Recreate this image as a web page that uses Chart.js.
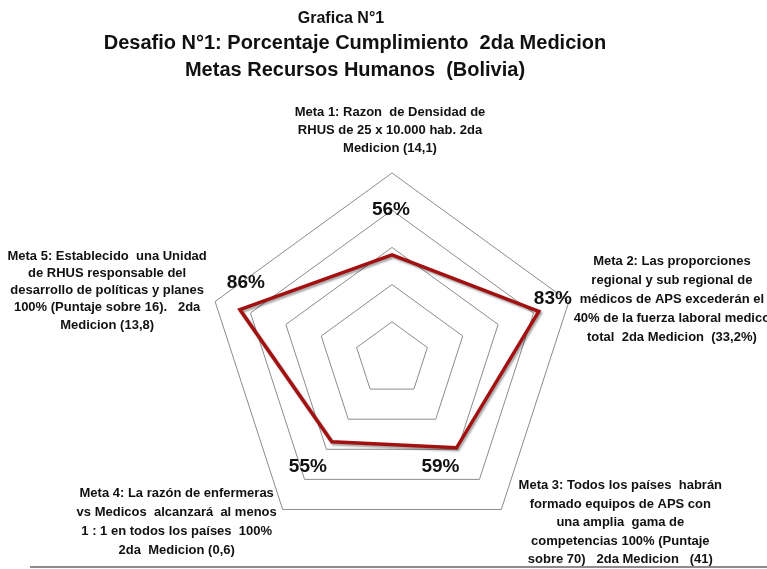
<!DOCTYPE html>
<html>
<head>
<meta charset="utf-8">
<script src="https://cdn.jsdelivr.net/npm/chart.js@4.4.1/dist/chart.umd.min.js"></script>
<style>
  html, body { margin: 0; padding: 0; background: #ffffff; }
  #wrap { width: 767px; height: 569px; }
</style>
</head>
<body>
<div id="wrap"><canvas id="c" width="767" height="569"></canvas></div>
<script>
// ---- Data ----
const titleLines = [
  'Grafica N°1',
  'Desafio N°1: Porcentaje Cumplimiento  2da Medicion',
  'Metas Recursos Humanos  (Bolivia)'
];
const categories = [
  ['Meta 1: Razon  de Densidad de', 'RHUS de 25 x 10.000 hab. 2da', 'Medicion (14,1)'],
  ['Meta 2: Las proporciones', 'regional y sub regional de', 'médicos de APS excederán el', '40% de la fuerza laboral medico', 'total  2da Medicion  (33,2%)'],
  ['Meta 3: Todos los países  habrán', 'formado equipos de APS con', 'una amplia  gama de', 'competencias 100% (Puntaje', 'sobre 70)   2da Medicion   (41)'],
  ['Meta 4: La razón de enfermeras', 'vs Medicos  alcanzará  al menos', '1 : 1 en todos los países  100%', '2da  Medicion (0,6)'],
  ['Meta 5: Establecido  una Unidad', 'de RHUS responsable del', 'desarrollo de políticas y planes', '100% (Puntaje sobre 16).   2da', 'Medicion (13,8)']
];
const values = [56, 83, 59, 55, 86];
const valueLabels = ['56%', '83%', '59%', '55%', '86%'];
const scaleMin = 0;
const scaleMax = 100;
const scaleStep = 20;

// ---- Layout / style (not data) ----
const catLabelOffsets = [[-2, -43], [103, -2], [119, 13], [-106, 12], [-108, -11]];
const catLineHeights = [18, 19, 18.5, 19, 17.3];
const valLabelOffsets = [[-1, -45], [14, -13], [-16, 19], [-24, 25], [6, -27]];

const decorPlugin = {
  id: 'decor',
  beforeDraw(chart) {
    const ctx = chart.ctx;
    ctx.save();
    ctx.fillStyle = '#ffffff';
    ctx.fillRect(0, 0, chart.width, chart.height);
    ctx.restore();
  },
  beforeDatasetDraw(chart) {
    const ctx = chart.ctx;
    ctx.save();
    ctx.shadowColor = 'rgba(0,0,0,0.35)';
    ctx.shadowOffsetX = 1.5;
    ctx.shadowOffsetY = 2;
    ctx.shadowBlur = 2;
  },
  afterDatasetDraw(chart) {
    chart.ctx.restore();
  },
  afterDraw(chart) {
    const ctx = chart.ctx;
    const scale = chart.scales.r;
    ctx.save();
    ctx.fillStyle = '#111111';
    ctx.textBaseline = 'middle';
    ctx.textAlign = 'center';
    // Title
    ctx.font = 'bold 16px "Liberation Sans", Arial, sans-serif';
    ctx.fillText(titleLines[0], 341, 19);
    ctx.font = 'bold 20px "Liberation Sans", Arial, sans-serif';
    ctx.fillText(titleLines[1], 355, 43);
    ctx.fillText(titleLines[2], 355, 70);

    // Category labels
    ctx.font = 'bold 13px "Liberation Sans", Arial, sans-serif';
    categories.forEach((lines, i) => {
      const p = scale.getPointPosition(i, scale.drawingArea);
      const cx = p.x + catLabelOffsets[i][0];
      const cy = p.y + catLabelOffsets[i][1];
      const lh = catLineHeights[i];
      const y0 = cy - (lines.length - 1) * lh / 2;
      lines.forEach((t, k) => ctx.fillText(t, cx, y0 + k * lh));
    });

    // Value labels
    ctx.font = 'bold 19px "Liberation Sans", Arial, sans-serif';
    values.forEach((v, i) => {
      const p = scale.getPointPositionForValue(i, v);
      ctx.fillText(valueLabels[i], p.x + valLabelOffsets[i][0], p.y + valLabelOffsets[i][1]);
    });

    // bottom rule
    ctx.strokeStyle = '#8c8c8c';
    ctx.lineWidth = 2;
    ctx.beginPath();
    ctx.moveTo(30, 567);
    ctx.lineTo(767, 567);
    ctx.stroke();
    ctx.restore();
  }
};

new Chart(document.getElementById('c'), {
  type: 'radar',
  data: {
    labels: categories,
    datasets: [{
      label: '2da Medicion',
      data: values,
      borderColor: '#A31010',
      borderWidth: 3.5,
      backgroundColor: 'rgba(0,0,0,0)',
      fill: false,
      pointRadius: 0,
      pointHoverRadius: 0,
      tension: 0
    }]
  },
  options: {
    responsive: false,
    devicePixelRatio: 1,
    animation: false,
    layout: { padding: { left: 206, right: 189, top: 173, bottom: 24 } },
    plugins: {
      legend: { display: false },
      title: { display: false },
      tooltip: { enabled: false }
    },
    scales: {
      r: {
        min: scaleMin,
        max: scaleMax,
        ticks: { stepSize: scaleStep, display: false },
        grid: { color: '#8c8c8c', lineWidth: 1, circular: false },
        angleLines: { display: false },
        pointLabels: { display: false }
      }
    }
  },
  plugins: [decorPlugin]
});
</script>
</body>
</html>
